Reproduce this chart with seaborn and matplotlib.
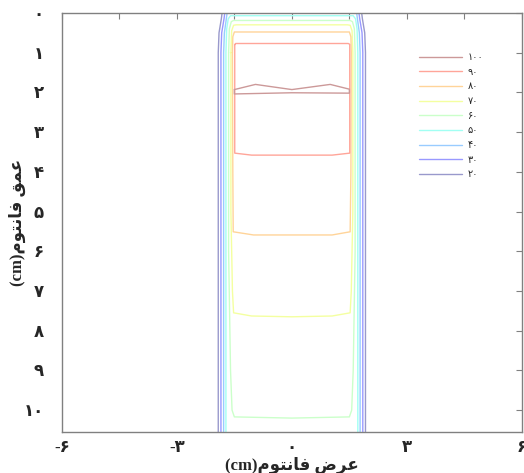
import numpy as np
import pandas as pd
import seaborn as sns
import matplotlib.pyplot as plt
from matplotlib.lines import Line2D

# isodose levels (percent) and their labels
levels = [20, 30, 40, 50, 60, 70, 80, 90, 100]
level_labels = ['۲۰', '۳۰', '۴۰', '۵۰', '۶۰', '۷۰', '۸۰', '۹۰', '۱۰۰']

# isodose curves: width (cm), depth (cm)
x20 = [-1.92, -1.92, -1.90, -1.84, -1.78, 1.78, 1.84, 1.90, 1.92, 1.92]
y20 = [10.8, 1.0, 0.5, 0.15, -0.3, -0.3, 0.15, 0.5, 1.0, 10.8]

x30 = [-1.85, -1.85, -1.83, -1.77, -1.71, 1.71, 1.77, 1.83, 1.85, 1.85]
y30 = [10.8, 1.0, 0.5, 0.15, -0.3, -0.3, 0.15, 0.5, 1.0, 10.8]

x40 = [-1.78, -1.78, -1.76, -1.71, -1.65, 1.65, 1.71, 1.76, 1.78, 1.78]
y40 = [10.8, 1.0, 0.5, 0.15, -0.3, -0.3, 0.15, 0.5, 1.0, 10.8]

x50 = [-1.72, -1.72, -1.70, -1.66, -1.60, 1.60, 1.66, 1.70, 1.72, 1.72]
y50 = [10.8, 1.0, 0.4, 0.15, 0.07, 0.07, 0.15, 0.4, 1.0, 10.8]

x60 = [-1.65, -1.65, -1.60, -1.56, -1.50, 0.0, 1.50, 1.56, 1.60, 1.65,
       1.65, 1.63, 1.58, 1.52, -1.52, -1.58, -1.63, -1.65]
y60 = [1.0, 6.0, 9.0, 10.0, 10.17, 10.2, 10.17, 10.0, 9.0, 6.0,
       1.0, 0.4, 0.22, 0.19, 0.19, 0.22, 0.4, 1.0]

x70 = [-1.59, -1.59, -1.55, -1.52, -1.05, 0.0, 1.05, 1.52, 1.55, 1.59,
       1.59, 1.57, 1.52, 1.45, -1.45, -1.52, -1.57, -1.59]
y70 = [1.0, 5.0, 7.0, 7.55, 7.63, 7.65, 7.63, 7.55, 7.0, 5.0,
       1.0, 0.45, 0.31, 0.30, 0.30, 0.31, 0.45, 1.0]

x80 = [-1.55, -1.54, -1.53, -1.0, 1.05, 1.52, 1.54, 1.55, 1.54, 1.50,
       -1.50, -1.54, -1.55]
y80 = [1.0, 4.0, 5.51, 5.59, 5.59, 5.51, 4.0, 1.0, 0.6, 0.48,
       0.48, 0.6, 1.0]

x90 = [-1.49, -1.49, -1.05, 1.05, 1.51, 1.51, 1.47, -1.47, -1.49]
y90 = [0.80, 3.53, 3.58, 3.58, 3.53, 0.79, 0.77, 0.77, 0.80]

x100 = [-1.50, -0.95, 0.0, 1.0, 1.50, 1.50, 0.0, -1.50, -1.50]
y100 = [1.93, 1.80, 1.93, 1.80, 1.92, 2.02, 2.01, 2.04, 1.93]

curves_x = [x20, x30, x40, x50, x60, x70, x80, x90, x100]
curves_y = [y20, y30, y40, y50, y60, y70, y80, y90, y100]

xtick_pos = [-6, -4.5, -3, -1.5, 0, 1.5, 3, 4.5, 6]
xtick_labels = ['-۶', '', '-۳', '', '۰', '', '۳', '', '۶']
ytick_pos = [0, 1, 2, 3, 4, 5, 6, 7, 8, 9, 10]
ytick_labels = ['۰', '۱', '۲', '۳', '۴', '۵', '۶', '۷', '۸', '۹', '۱۰']

# Arabic text in visual order with presentation forms
xlabel = '(cm)' + '\uFEE1\uFEEE\uFE98\uFEE7\uFE8E\uFED3' + ' ' + '\uFEBD\uFEAE\uFECB'
ylabel = '(cm)' + '\uFEE1\uFEEE\uFE98\uFEE7\uFE8E\uFED3' + ' ' + '\uFED6\uFEE4\uFECB'

sns.set_style('white')
plt.rcParams['font.family'] = ['Liberation Serif', 'DejaVu Sans']

frames = []
for lev, cx, cy in zip(levels, curves_x, curves_y):
    frames.append(pd.DataFrame({'x': cx, 'y': cy, 'level': lev}))
df = pd.concat(frames, ignore_index=True)

jet = plt.get_cmap('jet')
palette = {}
for i, lev in enumerate(levels):
    c = np.array(jet(i / (len(levels) - 1))[:3])
    palette[lev] = tuple(0.4 * c + 0.6)

fig = plt.figure(figsize=(5.24, 4.73), dpi=100)
ax = fig.add_axes([0.118, 0.0867, 0.878, 0.886])

sns.lineplot(data=df, x='x', y='y', hue='level', palette=palette,
             sort=False, estimator=None, legend=False, lw=1.0, ax=ax)

ax.set_xlim(-6, 6)
ax.set_ylim(10.55, 0)
ax.set_xticks(xtick_pos, xtick_labels)
ax.set_yticks(ytick_pos, ytick_labels)
ax.tick_params(direction='in', top=True, right=True, length=4,
               color='#808080', width=0.8, labelsize=12)
ax.tick_params(axis='x', pad=6)
ax.tick_params(axis='y', pad=13)
for lab in ax.get_xticklabels() + ax.get_yticklabels():
    lab.set_fontweight('bold')
for sp in ax.spines.values():
    sp.set_color('#808080')
    sp.set_linewidth(1.0)

ax.set_xlabel(xlabel, fontsize=12, fontweight='bold', labelpad=0)
ax.set_ylabel(ylabel, fontsize=12, fontweight='bold')
ax.yaxis.set_label_coords(-0.078, 0.5)

handles = [Line2D([], [], color=palette[lev], lw=1.0) for lev in levels[::-1]]
ax.legend(handles, level_labels[::-1], loc='upper left',
          bbox_to_anchor=(0.757, 0.925), frameon=False, fontsize=7,
          handlelength=4.4, handletextpad=0.6, labelspacing=0.58)

fig.savefig('out.png', dpi=100)
